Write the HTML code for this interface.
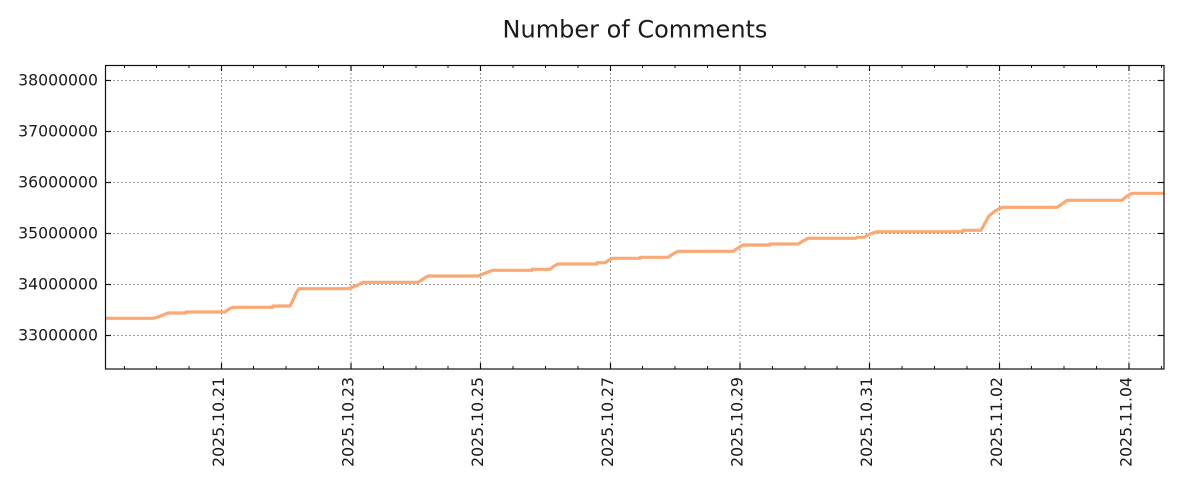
<!DOCTYPE html>
<html><head><meta charset="utf-8"><style>
html,body{margin:0;padding:0;background:#fff;}
svg{display:block;}
text{font-family:"DejaVu Sans","Liberation Sans",sans-serif;fill:#1a1a1a;}
</style></head><body>
<svg width="1200" height="500" viewBox="0 0 1200 500" xmlns="http://www.w3.org/2000/svg">
<defs><clipPath id="c"><rect x="105" y="65" width="1059" height="304"/></clipPath></defs>
<text x="635" y="37.7" text-anchor="middle" font-size="24">Number of Comments</text>
<g stroke="#9a9a9a" stroke-width="1" stroke-dasharray="2,2" fill="none">
<line x1="105" y1="80.5" x2="1164" y2="80.5"/>
<line x1="105" y1="131.5" x2="1164" y2="131.5"/>
<line x1="105" y1="182.5" x2="1164" y2="182.5"/>
<line x1="105" y1="233.5" x2="1164" y2="233.5"/>
<line x1="105" y1="284.5" x2="1164" y2="284.5"/>
<line x1="105" y1="335.5" x2="1164" y2="335.5"/>
<line x1="221.5" y1="65" x2="221.5" y2="369"/>
<line x1="351" y1="65" x2="351" y2="369"/>
<line x1="480.5" y1="65" x2="480.5" y2="369"/>
<line x1="610.5" y1="65" x2="610.5" y2="369"/>
<line x1="740" y1="65" x2="740" y2="369"/>
<line x1="869.5" y1="65" x2="869.5" y2="369"/>
<line x1="999.5" y1="65" x2="999.5" y2="369"/>
<line x1="1129" y1="65" x2="1129" y2="369"/>
</g>
<polyline clip-path="url(#c)" fill="none" stroke="#fba974" stroke-width="3.2" stroke-linejoin="round" points="105,318.3 153,318.3 158,317 163,315 168,313 186,313 186,312 225,312 229,309 233,307.3 273,307.3 273,306 290,306 293,300 296,293 299,288.7 348,288.7 353,287 358,285 363,282.3 418,282.3 423,279 428,276 478,276 483,274 488,272 493,270.3 532,270.3 532,269.3 550,269.3 554,266 558,264 597,264 597,262.7 605,262.7 609,260 612,258.3 640,258.3 640,257.3 668,257.3 673,254 678,251.3 733,251.3 738,248 743,245 770,245 770,244 798,244 803,241 808,238.3 856,238.3 857,237.3 864,237.3 870,234 877,231.7 963,231.7 963,230.3 981,230.3 985,223 989,216 995,211 1002,207.3 1057,207.3 1062,204 1067,200.3 1122,200.3 1127,196 1132,193.3 1166,193.3"/>
<rect x="105.5" y="65.5" width="1058.5" height="303.5" fill="none" stroke="#111" stroke-width="1.2"/>
<g stroke="#111" stroke-width="1.2">
<line x1="105" y1="80.5" x2="111" y2="80.5"/><line x1="1158" y1="80.5" x2="1164" y2="80.5"/>
<line x1="105" y1="131.5" x2="111" y2="131.5"/><line x1="1158" y1="131.5" x2="1164" y2="131.5"/>
<line x1="105" y1="182.5" x2="111" y2="182.5"/><line x1="1158" y1="182.5" x2="1164" y2="182.5"/>
<line x1="105" y1="233.5" x2="111" y2="233.5"/><line x1="1158" y1="233.5" x2="1164" y2="233.5"/>
<line x1="105" y1="284.5" x2="111" y2="284.5"/><line x1="1158" y1="284.5" x2="1164" y2="284.5"/>
<line x1="105" y1="335.5" x2="111" y2="335.5"/><line x1="1158" y1="335.5" x2="1164" y2="335.5"/>
<line x1="221.5" y1="369" x2="221.5" y2="363"/><line x1="221.5" y1="65" x2="221.5" y2="71"/>
<line x1="351" y1="369" x2="351" y2="363"/><line x1="351" y1="65" x2="351" y2="71"/>
<line x1="480.5" y1="369" x2="480.5" y2="363"/><line x1="480.5" y1="65" x2="480.5" y2="71"/>
<line x1="610.5" y1="369" x2="610.5" y2="363"/><line x1="610.5" y1="65" x2="610.5" y2="71"/>
<line x1="740" y1="369" x2="740" y2="363"/><line x1="740" y1="65" x2="740" y2="71"/>
<line x1="869.5" y1="369" x2="869.5" y2="363"/><line x1="869.5" y1="65" x2="869.5" y2="71"/>
<line x1="999.5" y1="369" x2="999.5" y2="363"/><line x1="999.5" y1="65" x2="999.5" y2="71"/>
<line x1="1129" y1="369" x2="1129" y2="363"/><line x1="1129" y1="65" x2="1129" y2="71"/>
</g>
<g stroke="#111" stroke-width="1">
<line x1="124.5" y1="369" x2="124.5" y2="366"/><line x1="124.5" y1="65" x2="124.5" y2="68"/>
<line x1="156.5" y1="369" x2="156.5" y2="366"/><line x1="156.5" y1="65" x2="156.5" y2="68"/>
<line x1="189" y1="369" x2="189" y2="366"/><line x1="189" y1="65" x2="189" y2="68"/>
<line x1="253.5" y1="369" x2="253.5" y2="366"/><line x1="253.5" y1="65" x2="253.5" y2="68"/>
<line x1="286" y1="369" x2="286" y2="366"/><line x1="286" y1="65" x2="286" y2="68"/>
<line x1="318.5" y1="369" x2="318.5" y2="366"/><line x1="318.5" y1="65" x2="318.5" y2="68"/>
<line x1="383.5" y1="369" x2="383.5" y2="366"/><line x1="383.5" y1="65" x2="383.5" y2="68"/>
<line x1="416" y1="369" x2="416" y2="366"/><line x1="416" y1="65" x2="416" y2="68"/>
<line x1="448" y1="369" x2="448" y2="366"/><line x1="448" y1="65" x2="448" y2="68"/>
<line x1="513" y1="369" x2="513" y2="366"/><line x1="513" y1="65" x2="513" y2="68"/>
<line x1="545.5" y1="369" x2="545.5" y2="366"/><line x1="545.5" y1="65" x2="545.5" y2="68"/>
<line x1="578" y1="369" x2="578" y2="366"/><line x1="578" y1="65" x2="578" y2="68"/>
<line x1="642.5" y1="369" x2="642.5" y2="366"/><line x1="642.5" y1="65" x2="642.5" y2="68"/>
<line x1="675" y1="369" x2="675" y2="366"/><line x1="675" y1="65" x2="675" y2="68"/>
<line x1="707.5" y1="369" x2="707.5" y2="366"/><line x1="707.5" y1="65" x2="707.5" y2="68"/>
<line x1="772.5" y1="369" x2="772.5" y2="366"/><line x1="772.5" y1="65" x2="772.5" y2="68"/>
<line x1="805" y1="369" x2="805" y2="366"/><line x1="805" y1="65" x2="805" y2="68"/>
<line x1="837" y1="369" x2="837" y2="366"/><line x1="837" y1="65" x2="837" y2="68"/>
<line x1="902" y1="369" x2="902" y2="366"/><line x1="902" y1="65" x2="902" y2="68"/>
<line x1="934.5" y1="369" x2="934.5" y2="366"/><line x1="934.5" y1="65" x2="934.5" y2="68"/>
<line x1="967" y1="369" x2="967" y2="366"/><line x1="967" y1="65" x2="967" y2="68"/>
<line x1="1031.5" y1="369" x2="1031.5" y2="366"/><line x1="1031.5" y1="65" x2="1031.5" y2="68"/>
<line x1="1064" y1="369" x2="1064" y2="366"/><line x1="1064" y1="65" x2="1064" y2="68"/>
<line x1="1096.5" y1="369" x2="1096.5" y2="366"/><line x1="1096.5" y1="65" x2="1096.5" y2="68"/>
<line x1="1161.5" y1="369" x2="1161.5" y2="366"/><line x1="1161.5" y1="65" x2="1161.5" y2="68"/>
</g>
<g font-size="15.7" text-anchor="end">
<text x="98" y="85.5">38000000</text>
<text x="98" y="136.5">37000000</text>
<text x="98" y="187.5">36000000</text>
<text x="98" y="238.5">35000000</text>
<text x="98" y="289.5">34000000</text>
<text x="98" y="340.5">33000000</text>
</g>
<g font-size="15.7" text-anchor="end">
<text transform="translate(224,377) rotate(-90)">2025.10.21</text>
<text transform="translate(353.5,377) rotate(-90)">2025.10.23</text>
<text transform="translate(483,377) rotate(-90)">2025.10.25</text>
<text transform="translate(613,377) rotate(-90)">2025.10.27</text>
<text transform="translate(742.5,377) rotate(-90)">2025.10.29</text>
<text transform="translate(872,377) rotate(-90)">2025.10.31</text>
<text transform="translate(1002,377) rotate(-90)">2025.11.02</text>
<text transform="translate(1131.5,377) rotate(-90)">2025.11.04</text>
</g>
</svg>
</body></html>
